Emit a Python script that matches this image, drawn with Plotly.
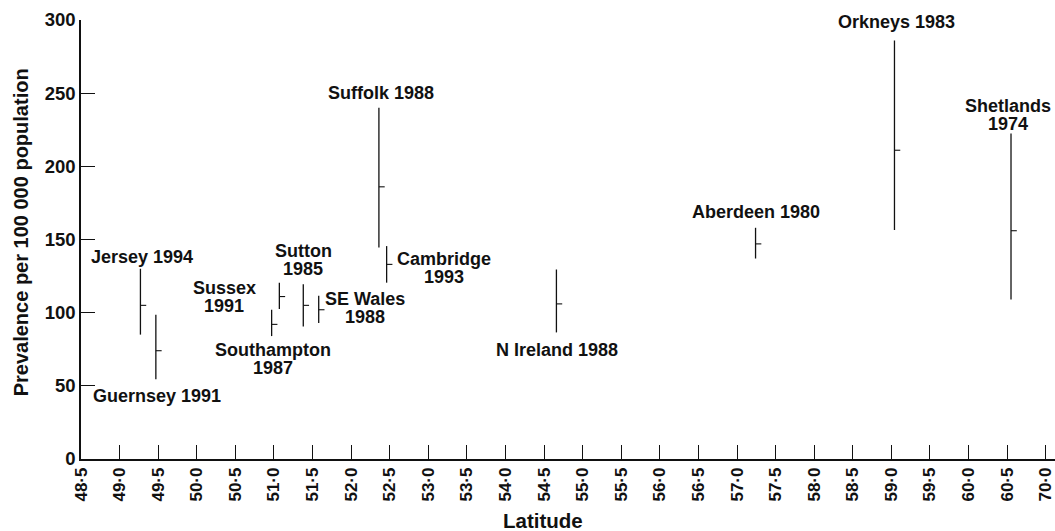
import plotly.graph_objects as go

# ---- data ----
regions = ["Jersey", "Guernsey", "Southampton", "Sussex", "Sutton", "SE Wales",
           "Suffolk", "Cambridge", "N Ireland", "Aberdeen", "Orkneys", "Shetlands"]
latitude = [49.27, 49.47, 50.97, 51.07, 51.38, 51.58, 52.36, 52.46, 54.66, 57.24, 59.04, 60.55]
prevalence = [105, 74, 92, 111, 105, 102, 186, 133, 106, 147, 211, 156]
lower_ci = [85, 54.5, 84, 102.5, 90.5, 93, 144.5, 120.5, 86.5, 137, 156.5, 109]
upper_ci = [130, 98.5, 102, 120.5, 119.5, 111.5, 240, 145.5, 129.5, 158, 286, 222.5]

tick_positions = [48.5, 49.0, 49.5, 50.0, 50.5, 51.0, 51.5, 52.0, 52.5, 53.0, 53.5, 54.0,
                  54.5, 55.0, 55.5, 56.0, 56.5, 57.0, 57.5, 58.0, 58.5, 59.0, 59.5, 60.0,
                  60.5, 61.0]
tick_labels = ["48·5", "49·0", "49·5", "50·0", "50·5", "51·0", "51·5", "52·0", "52·5",
               "53·0", "53·5", "54·0", "54·5", "55·0", "55·5", "56·0", "56·5", "57·0",
               "57·5", "58·0", "58·5", "59·0", "59·5", "60·0", "60·5", "70·0"]
y_ticks = [0, 50, 100, 150, 200, 250, 300]

x_title = "Latitude"
y_title = "Prevalence per 100 000 population"

# label text lines (one list per study)
label_lines = [
    ["Jersey 1994"], ["Guernsey 1991"], ["Southampton", "1987"], ["Sussex", "1991"],
    ["Sutton", "1985"], ["SE Wales", "1988"], ["Suffolk 1988"], ["Cambridge", "1993"],
    ["N Ireland 1988"], ["Aberdeen 1980"], ["Orkneys 1983"], ["Shetlands", "1974"],
]
# label placement (x, y of first line centre) in data coordinates
label_pos = [
    (49.285, 138.2), (49.489, 43.1), (50.986, 74.5), (50.357, 116.7),
    (51.379, 142.4), (52.184, 109.1), (52.387, 250.3), (53.199, 136.5),
    (54.663, 74.5), (57.247, 169.0), (59.065, 298.4), (60.509, 241.2),
]

INK = "#111111"
FONT = "Liberation Sans"
W, H = 1055, 531
ML, MR, MT, MB = 81, 0, 20, 72

fig = go.Figure()
fig.add_trace(go.Scatter(
    x=latitude, y=prevalence, mode="markers",
    marker=dict(size=1, color="rgba(0,0,0,0)"),
    error_y=dict(type="data", symmetric=False,
                 array=[u - p for u, p in zip(upper_ci, prevalence)],
                 arrayminus=[p - l for p, l in zip(prevalence, lower_ci)],
                 width=0, thickness=1.3, color=INK),
    error_x=dict(type="data", symmetric=False,
                 array=[0.075] * len(latitude), arrayminus=[0] * len(latitude),
                 width=0, thickness=1.1, color=INK),
    hovertext=regions, showlegend=False,
))

line_gap = 18  # px between label lines
for lines, (lx, ly) in zip(label_lines, label_pos):
    for i, t in enumerate(lines):
        fig.add_annotation(x=lx, y=ly, xref="x", yref="y", text=t, showarrow=False,
                           xanchor="center", yanchor="middle", yshift=-i * line_gap,
                           font=dict(family=FONT, size=18, color=INK, weight="bold"))

# axis titles placed as paper annotations (screen px -> paper fraction)
pw, ph = W - ML - MR, H - MT - MB
def px_to_paper(sx, sy):
    return (sx - ML) / pw, ((H - MB) - sy) / ph

tx, ty = px_to_paper(542.7, 520.5)
fig.add_annotation(x=tx, y=ty, xref="paper", yref="paper", text=x_title, showarrow=False,
                   xanchor="center", yanchor="middle",
                   font=dict(family=FONT, size=20.5, color=INK, weight="bold"))
tx, ty = px_to_paper(21.3, 232)
fig.add_annotation(x=tx, y=ty, xref="paper", yref="paper", text=y_title, showarrow=False,
                   textangle=-90, xanchor="center", yanchor="middle",
                   font=dict(family=FONT, size=20, color=INK, weight="bold"))

fig.update_layout(
    width=W, height=H,
    margin=dict(l=ML, r=MR, t=MT, b=MB, autoexpand=False),
    paper_bgcolor="white", plot_bgcolor="white",
    xaxis=dict(range=[48.5, 61.12], tickmode="array", tickvals=tick_positions,
               ticktext=tick_labels, tickangle=-90, ticks="inside", ticklen=14,
               tickwidth=1.3, tickcolor=INK, showline=True, linecolor=INK, linewidth=1.5,
               showgrid=False, zeroline=False, automargin=False, ticklabeloverflow="allow",
               tickfont=dict(family=FONT, size=17, color=INK, weight="bold")),
    yaxis=dict(range=[0, 300], tickmode="array", tickvals=y_ticks,
               ticks="inside", ticklen=14, tickwidth=1.3, tickcolor=INK,
               showline=True, linecolor=INK, linewidth=1.5, showgrid=False, zeroline=False,
               automargin=False,
               tickfont=dict(family=FONT, size=18.5, color=INK, weight="bold")),
)

fig.write_html("out.html", config={"displayModeBar": False},
               post_script="document.body.style.margin='0';document.body.style.overflow='hidden';")
